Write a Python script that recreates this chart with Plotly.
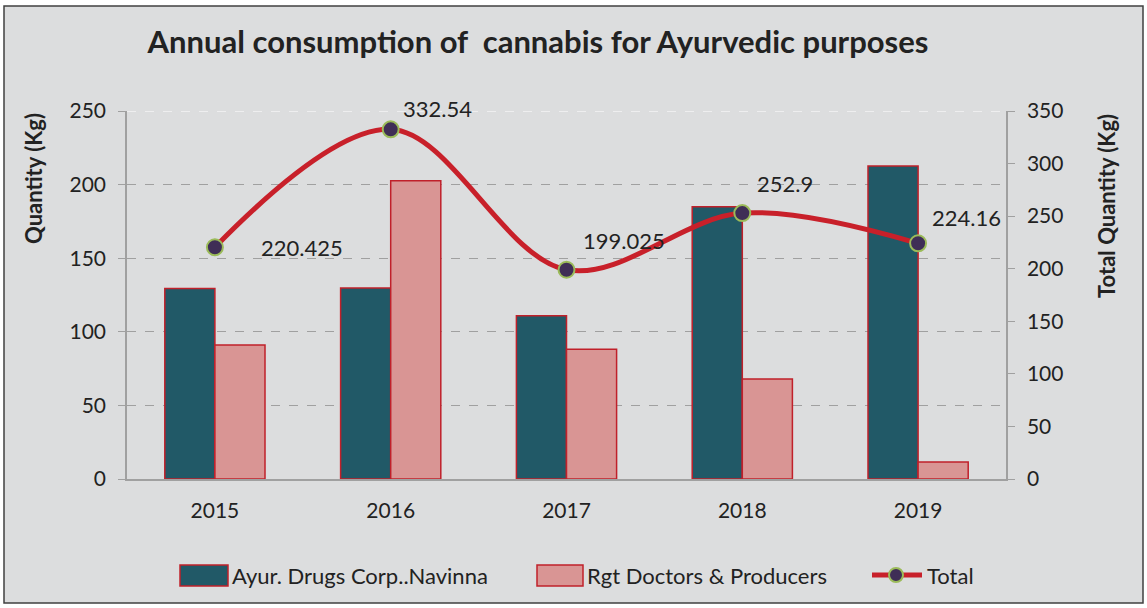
import plotly.graph_objects as go

years = ["2015", "2016", "2017", "2018", "2019"]
ayur = [129.4, 129.8, 110.9, 184.9, 212.7]
rgt = [91.0, 202.7, 88.1, 68.0, 11.5]
total = [220.425, 332.54, 199.025, 252.9, 224.16]
total_labels = ["220.425", "332.54", "199.025", "252.9", "224.16"]
label_dx = [87, 47, 57, 43, 48]
label_dy = [0, 21, 29, 30, 26]
series_names = ["Ayur. Drugs Corp..Navinna", "Rgt Doctors & Producers", "Total"]

FONT = "Lato"
TXT = "#222222"
TEAL = "#215967"
PINK = "#D99594"
RED = "#C0202A"
LINE_RED = "#C8202A"
MK = "#3F2E56"
MK_EDGE = "#9BBB59"

L, R, T, B = 127, 141, 111, 129
PW, PH = 1147 - L - R, 608 - T - B


def px_x(px):
    return (px - L) / PW


def px_y(py):
    return (608 - B - py) / PH


xpos = list(range(len(years)))

fig = go.Figure()
fig.add_trace(go.Bar(x=xpos, y=ayur, name=series_names[0],
                     marker=dict(color=TEAL, line=dict(color=RED, width=1.5)),
                     yaxis="y", showlegend=False))
fig.add_trace(go.Bar(x=xpos, y=rgt, name=series_names[1],
                     marker=dict(color=PINK, line=dict(color=RED, width=1.5)),
                     yaxis="y", showlegend=False))
fig.add_trace(go.Scatter(x=xpos, y=total, name=series_names[2], yaxis="y2",
                         mode="lines+markers",
                         line=dict(color=LINE_RED, width=5, shape="spline", smoothing=1),
                         marker=dict(color=MK, size=16, line=dict(color=MK_EDGE, width=2)),
                         showlegend=False))

for i, (yv, lab) in enumerate(zip(total, total_labels)):
    fig.add_annotation(x=xpos[i], y=yv, xref="x", yref="y2", text=lab, showarrow=False,
                       xshift=label_dx[i], yshift=label_dy[i],
                       font=dict(family=FONT, size=22, color=TXT))

# outer chart frame
fig.add_shape(type="rect", xref="paper", yref="paper",
              x0=px_x(4), x1=px_x(1143), y0=px_y(603), y1=px_y(6),
              fillcolor="#DCDDDE", line=dict(color="#404040", width=1.5), layer="below")
# top gridline (white dashed)
fig.add_shape(type="line", xref="paper", yref="y", x0=0, x1=1, y0=250, y1=250,
              line=dict(color="#FFFFFF", width=1, dash="dash"), layer="below")

# axis titles
fig.add_annotation(xref="paper", yref="paper", x=px_x(33), y=px_y(179),
                   xanchor="center", yanchor="middle",
                   text="<b>Quantity (Kg)</b>", textangle=-90, showarrow=False,
                   font=dict(family=FONT, size=22, color=TXT))
fig.add_annotation(xref="paper", yref="paper", x=px_x(1106), y=px_y(206),
                   xanchor="center", yanchor="middle",
                   text="<b>Total Quantity (Kg)</b>", textangle=-90, showarrow=False,
                   font=dict(family=FONT, size=22, color=TXT))

# custom legend
LY = 575
fig.add_shape(type="rect", xref="paper", yref="paper",
              x0=px_x(180), x1=px_x(228), y0=px_y(586), y1=px_y(565),
              fillcolor=TEAL, line=dict(color=RED, width=1.5))
fig.add_shape(type="rect", xref="paper", yref="paper",
              x0=px_x(537), x1=px_x(583), y0=px_y(586), y1=px_y(565),
              fillcolor=PINK, line=dict(color=RED, width=1.5))
fig.add_shape(type="line", xref="paper", yref="paper",
              x0=px_x(872), x1=px_x(922), y0=px_y(LY), y1=px_y(LY),
              line=dict(color=LINE_RED, width=5))
fig.add_shape(type="circle", xref="paper", yref="paper",
              x0=px_x(889), x1=px_x(903), y0=px_y(582), y1=px_y(568),
              fillcolor=MK, line=dict(color=MK_EDGE, width=2))
for xpx, name in zip([230, 585, 925], series_names):
    fig.add_annotation(xref="paper", yref="paper", x=px_x(xpx), y=px_y(LY),
                       xanchor="left", yanchor="middle", text=name, showarrow=False,
                       font=dict(family=FONT, size=22, color=TXT))

fig.update_layout(
    width=1147, height=608,
    margin=dict(l=L, r=R, t=T, b=B, autoexpand=False),
    paper_bgcolor="#FFFFFF",
    plot_bgcolor="rgba(0,0,0,0)",
    barmode="group", bargap=0.43, bargroupgap=0,
    title=dict(text="<b>Annual consumption of  cannabis for Ayurvedic purposes</b>",
               x=px_x(538), xref="paper", xanchor="center",
               y=1 - 42 / 608, yanchor="middle",
               font=dict(family=FONT, size=31, color=TXT)),
    font=dict(family=FONT, size=21, color=TXT),
    xaxis=dict(range=[-0.5, len(years) - 0.5], tickvals=xpos, ticktext=years,
               showline=True, linecolor="#A0A0A0", linewidth=1.5,
               ticks="", tickfont=dict(size=21), showgrid=False, zeroline=False,
               ticklabelstandoff=12),
    yaxis=dict(range=[0, 250], tickvals=[0, 50, 100, 150, 200, 250],
               showline=True, linecolor="#A0A0A0", linewidth=1.5,
               ticks="outside", tickcolor="#A0A0A0", ticklen=7,
               showgrid=True, gridcolor="#A0A0A0", griddash="dash", gridwidth=1.3,
               zeroline=False, tickfont=dict(size=21), ticklabelstandoff=8),
    yaxis2=dict(range=[0, 350], tickvals=[0, 50, 100, 150, 200, 250, 300, 350],
                overlaying="y", side="right",
                showline=True, linecolor="#A0A0A0", linewidth=1.5,
                ticks="outside", tickcolor="#A0A0A0", ticklen=7,
                showgrid=False, zeroline=False, tickfont=dict(size=21),
                ticklabelstandoff=8),
    showlegend=False,
)

fig.write_html("out.html", post_script="document.body.style.margin='0';",
               config={"displayModeBar": False})
